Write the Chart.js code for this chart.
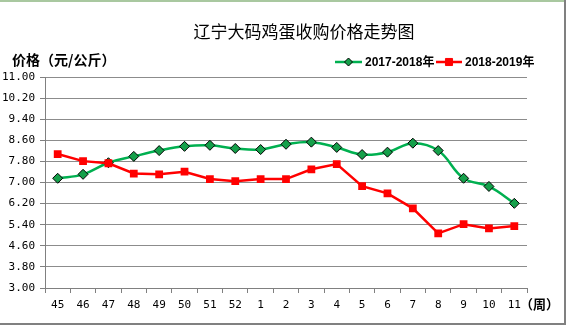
<!DOCTYPE html>
<html>
<head>
<meta charset="utf-8">
<script src="https://cdn.jsdelivr.net/npm/chart.js@4/dist/chart.umd.min.js"></script>
<style>
html,body{margin:0;padding:0;background:#fff;}
#wrap{width:566px;height:325px;position:relative;}
</style>
</head>
<body>
<div id="wrap"><canvas id="c" width="566" height="325"></canvas></div>
<script>
const weeks = ['45','46','47','48','49','50','51','52','1','2','3','4','5','6','7','8','9','10','11'];
const series2017 = [7.16,7.31,7.75,7.99,8.21,8.37,8.41,8.29,8.25,8.45,8.53,8.33,8.06,8.15,8.49,8.21,7.16,6.85,6.21];
const series2018 = [8.08,7.81,7.73,7.34,7.31,7.41,7.13,7.05,7.13,7.13,7.50,7.70,6.86,6.59,6.02,5.07,5.42,5.26,5.35];
const yTicks = [3.00,3.80,4.60,5.40,6.20,7.00,7.80,8.60,9.40,10.20,11.00];
const titleText = '辽宁大码鸡蛋收购价格走势图';
const yTitle = '价格（元/公斤）';
const xUnit = '（周）';
const label1 = '2017-2018年';
const label2 = '2018-2019年';

const GREEN = '#00B050';
const GREEN_FILL = '#15A04A';
const RED = '#FF0000';
const CJK = '"Noto Sans CJK SC", sans-serif';

const deco = {
  id: 'deco',
  beforeDraw(chart) {
    const ctx = chart.ctx;
    ctx.save();
    ctx.fillStyle = '#fff';
    ctx.fillRect(0, 0, chart.width, chart.height);
    ctx.restore();
  },
  afterDraw(chart) {
    const ctx = chart.ctx;
    const ca = chart.chartArea;
    ctx.save();
    // outer border
    ctx.fillStyle = '#A9C8A0';
    ctx.fillRect(0, 0, 566, 2);
    ctx.fillStyle = '#808080';
    ctx.fillRect(564, 0, 2, 325);
    ctx.fillRect(0, 323, 566, 2);
    // title
    ctx.fillStyle = '#000';
    ctx.textBaseline = 'middle';
    ctx.textAlign = 'center';
    ctx.font = '17px ' + CJK;
    ctx.fillText(titleText, 304, 32);
    // y title
    ctx.textAlign = 'left';
    ctx.font = 'bold 14px ' + CJK;
    ctx.fillText(yTitle, 12, 60);
    // x unit
    ctx.font = 'bold 13px ' + CJK;
    ctx.fillText(xUnit, 520, 304);
    // legend
    const ly = 62;
    const items = [
      {x0: 335, x1: 362, color: GREEN, label: label1, style: 'rectRot', fill: GREEN_FILL, border: '#000', r: 4},
      {x0: 436, x1: 462, color: RED, label: label2, style: 'rect', fill: RED, border: RED, r: 5}
    ];
    items.forEach(it => {
      ctx.strokeStyle = it.color;
      ctx.lineWidth = 2.5;
      ctx.beginPath();
      ctx.moveTo(it.x0, ly);
      ctx.lineTo(it.x1, ly);
      ctx.stroke();
      ctx.fillStyle = it.fill;
      ctx.strokeStyle = it.border;
      ctx.lineWidth = 1;
      Chart.helpers.drawPoint(ctx, {pointStyle: it.style, radius: it.r, borderWidth: 1}, (it.x0 + it.x1) / 2, ly);
      ctx.fillStyle = '#000';
      ctx.font = 'bold 12px "Liberation Sans", ' + CJK;
      ctx.textAlign = 'left';
      ctx.fillText(it.label, it.x1 + 3, ly + 1);
    });
    ctx.restore();
  }
};

new Chart(document.getElementById('c'), {
  type: 'line',
  data: {
    labels: weeks,
    datasets: [
      {
        label: label1,
        data: series2017,
        borderColor: GREEN,
        borderWidth: 2.5,
        tension: 0.4,
        pointStyle: 'rectRot',
        pointRadius: 5,
        pointBackgroundColor: GREEN_FILL,
        pointBorderColor: '#000',
        pointBorderWidth: 1,
        order: 2
      },
      {
        label: label2,
        data: series2018,
        borderColor: RED,
        borderWidth: 2.5,
        tension: 0,
        pointStyle: 'rect',
        pointRadius: 5.5,
        pointBackgroundColor: RED,
        pointBorderColor: RED,
        pointBorderWidth: 0,
        order: 1
      }
    ]
  },
  options: {
    responsive: false,
    animation: false,
    devicePixelRatio: 1,
    layout: {padding: {left: 0, top: 77, right: 39, bottom: 0}},
    plugins: {
      legend: {display: false},
      title: {display: false},
      tooltip: {enabled: false}
    },
    scales: {
      x: {
        type: 'category',
        offset: true,
        grid: {
          offset: true,
          drawOnChartArea: false,
          color: '#808080',
          tickLength: 5,
          tickColor: '#808080'
        },
        border: {color: '#808080', width: 1},
        ticks: {
          color: '#000',
          font: {family: '"DejaVu Sans Mono", monospace', size: 11},
          padding: 6,
          maxRotation: 0,
          autoSkip: false
        },
        afterFit(scale) { scale.height = 37; }
      },
      y: {
        min: 3,
        max: 11,
        afterBuildTicks(scale) {
          scale.ticks = yTicks.map(v => ({value: v}));
        },
        grid: {
          color: '#8C8C8C',
          lineWidth: 1,
          tickLength: 5,
          tickColor: '#808080'
        },
        border: {color: '#808080', width: 1},
        ticks: {
          color: '#000',
          font: {family: '"DejaVu Sans Mono", monospace', size: 11},
          padding: 5,
          callback: v => Number(v).toFixed(2)
        },
        afterFit(scale) { scale.width = 45; }
      }
    }
  },
  plugins: [deco]
});
</script>
</body>
</html>
